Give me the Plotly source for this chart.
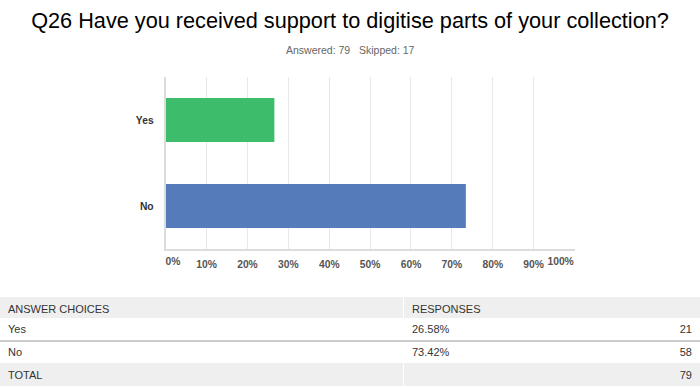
import plotly.graph_objects as go

# ---- data ----
categories = ["Yes", "No"]
percents = [26.58, 73.42]
counts = [21, 58]
total_count = 79
answered = 79
skipped = 17
tick_vals = [0, 10, 20, 30, 40, 50, 60, 70, 80, 90, 100]
tick_text = ["0%", "10%", "20%", "30%", "40%", "50%", "60%", "70%", "80%", "90%", "100%"]
bar_colors = ["#3dbd6b", "#557bba"]
title_text = "Q26 Have you received support to digitise parts of your collection?"

W, H = 700, 387

def px_x(p):
    return p / W

def px_y(p):
    return 1 - p / H

fig = go.Figure()

fig.add_trace(go.Bar(
    y=categories, x=percents, orientation="h",
    marker=dict(color=bar_colors, line=dict(width=0)),
    hoverinfo="skip", showlegend=False,
    xaxis="x", yaxis="y",
))

# invisible trace for the end-label axis
fig.add_trace(go.Scatter(x=[0], y=[categories[0]], mode="markers",
                         marker=dict(opacity=0), xaxis="x2", yaxis="y",
                         hoverinfo="skip", showlegend=False))

main_text = [""] + tick_text[1:-1] + [""]

tick_font = dict(family="Liberation Sans, Arial", size=10.3, color="#555555", weight="bold")

fig.update_layout(
    width=W, height=H,
    margin=dict(l=0, r=0, t=0, b=0),
    paper_bgcolor="white", plot_bgcolor="white",
    bargap=0.49,
    title=dict(text=title_text, x=0.5, xanchor="center", y=1 - 20 / H, yanchor="middle",
               font=dict(family="Liberation Sans, Arial", size=21.7, color="#000000")),
    xaxis=dict(domain=[px_x(165.7), px_x(574.5)], range=[0, 100],
               tickvals=tick_vals, ticktext=main_text,
               showgrid=True, gridcolor="#e8e8e8", gridwidth=1,
               zeroline=False, showline=True, linecolor="#dcdcdc", linewidth=2,
               ticks="", tickfont=tick_font, ticklabelstandoff=5, fixedrange=True),
    xaxis2=dict(domain=[px_x(165.7), px_x(574.5)], range=[0, 100], overlaying="x",
                anchor="y", side="bottom",
                tickvals=[1.8, 96.6], ticktext=[tick_text[0], tick_text[-1]],
                showgrid=False, zeroline=False, showline=False, ticks="",
                tickfont=tick_font, ticklabelstandoff=5, fixedrange=True),
    yaxis=dict(domain=[px_y(249), px_y(77)], autorange="reversed",
               categoryorder="array", categoryarray=categories,
               showgrid=False, zeroline=False, showline=True, linecolor="#dcdcdc", linewidth=2,
               ticks="", tickfont=dict(family="Liberation Sans, Arial", size=10.3, color="#333333", weight="bold"),
               ticklabelstandoff=8, fixedrange=True),
)

fig.add_annotation(text=f"Answered: {answered}&nbsp;&nbsp;&nbsp;Skipped: {skipped}",
                   x=0.5, y=px_y(50), xref="paper", yref="paper", showarrow=False,
                   xanchor="center", yanchor="middle",
                   font=dict(family="Liberation Sans, Arial", size=10.5, color="#666666"))

# ---- table ----
col_choices = categories + ["TOTAL"]
col_pct = [f"{p:.2f}%" for p in percents] + [""]
col_cnt = [str(c) for c in counts] + [str(total_count)]
grey = "#efefef"
row_fill = ["white", "white", grey]
table_font = dict(family="Liberation Sans, Arial", size=11, color="#333333")
table_y = [0, px_y(297)]

# left part: answer choices
fig.add_trace(go.Table(
    domain=dict(x=[0, px_x(402.5)], y=table_y),
    header=dict(values=["ANSWER CHOICES"], fill_color=grey, line=dict(color=grey, width=1),
                align="left", height=20, font=table_font),
    cells=dict(values=[col_choices], fill_color=[row_fill], line=dict(color=[row_fill], width=1),
               align="left", height=23, font=table_font),
))

# right part: responses (percent + count)
fig.add_trace(go.Table(
    domain=dict(x=[px_x(404), 1], y=table_y),
    columnwidth=[150, 146],
    header=dict(values=["RESPONSES", ""], fill_color=grey, line=dict(color=grey, width=1),
                align=["left", "right"], height=20, font=table_font),
    cells=dict(values=[col_pct, col_cnt], fill_color=[row_fill, row_fill],
               line=dict(color=[row_fill, row_fill], width=1),
               align=["left", "right"], height=23, font=table_font),
))

fig.add_shape(type="line", xref="paper", yref="paper", x0=0, x1=1,
              y0=px_y(341), y1=px_y(341), line=dict(color="#cccccc", width=2), layer="above")

fig.write_html("out.html")
